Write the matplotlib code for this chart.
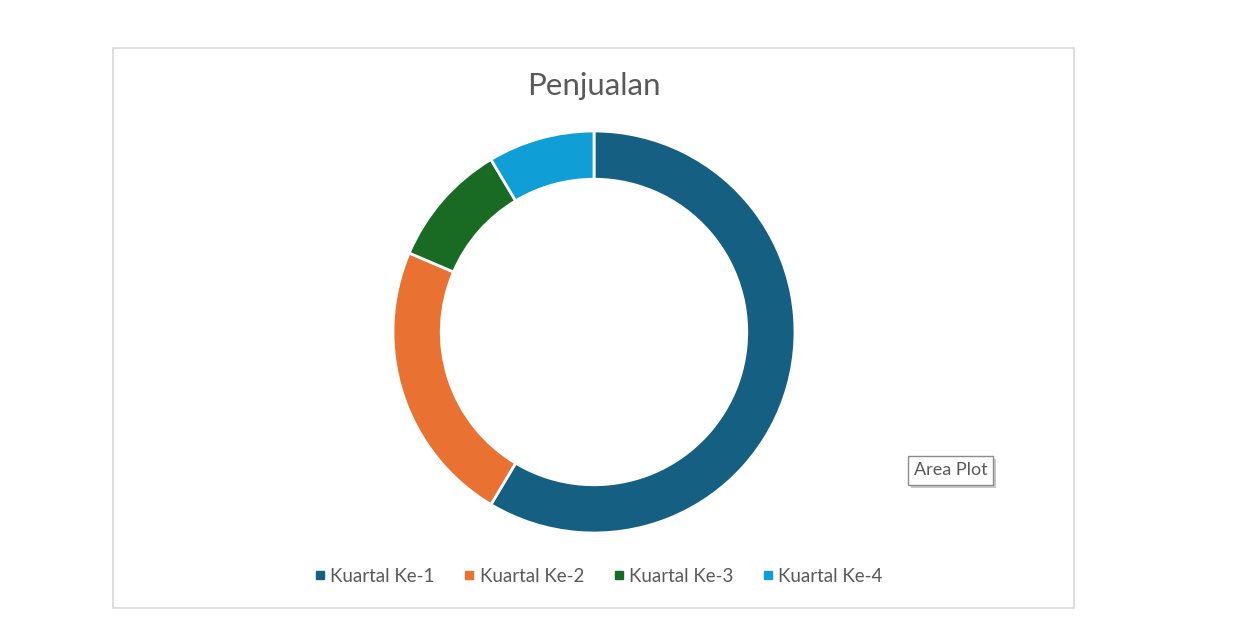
import matplotlib.pyplot as plt
from matplotlib.patches import Rectangle
from matplotlib.lines import Line2D

# data
labels = ["Kuartal Ke-1", "Kuartal Ke-2", "Kuartal Ke-3", "Kuartal Ke-4"]
sales = [8.2, 3.2, 1.4, 1.2]
colors = ["#156082", "#E97132", "#196B24", "#0F9ED5"]

plt.rcParams['font.family'] = ['Lato', 'DejaVu Sans']

W, H = 1241, 618
fig = plt.figure(figsize=(W / 100, H / 100), dpi=100)

# chart area border
fig.patches.append(Rectangle((113 / W, 1 - 608 / H), (1074 - 113) / W, (608 - 48) / H,
                             transform=fig.transFigure, fill=False,
                             edgecolor="#d9d9d9", linewidth=1.2))

# donut axes
cx, cy, r = 594, 332, 201
ax = fig.add_axes([(cx - r) / W, (H - cy - r) / H, 2 * r / W, 2 * r / H])
ax.pie(sales, colors=colors, startangle=90, counterclock=False, radius=1,
       wedgeprops=dict(width=0.24, edgecolor="white", linewidth=2))
ax.set_xlim(-1, 1)
ax.set_ylim(-1, 1)
ax.set_aspect('equal')
ax.axis('off')

fig.text(594 / W, 1 - 86 / H, "Penjualan", ha="center", va="center",
         fontsize=22.5, color="#595959")

handles = [Line2D([], [], marker="s", linestyle="none", markersize=6,
                  markerfacecolor=c, markeredgecolor=c) for c in colors]
fig.legend(handles, labels, loc="center", bbox_to_anchor=(598 / W, 1 - 576 / H),
           ncol=4, frameon=False, fontsize=13.5, handletextpad=0.2,
           columnspacing=1.5, labelcolor="#595959", handlelength=0.7)

# tooltip with a small drop shadow
fig.patches.append(Rectangle((911 / W, 1 - 488 / H), 85 / W, 29 / H,
                             transform=fig.transFigure, facecolor="#c8c8c8",
                             edgecolor="none"))
fig.patches.append(Rectangle((908 / W, 1 - 485 / H), 85 / W, 29 / H,
                             transform=fig.transFigure, facecolor="white",
                             edgecolor="#8c8c8c", linewidth=1))
fig.text(950.5 / W, 1 - 470 / H, "Area Plot", ha="center", va="center",
         fontsize=13, color="#595959")

fig.savefig("out.png", dpi=100, facecolor="white")
